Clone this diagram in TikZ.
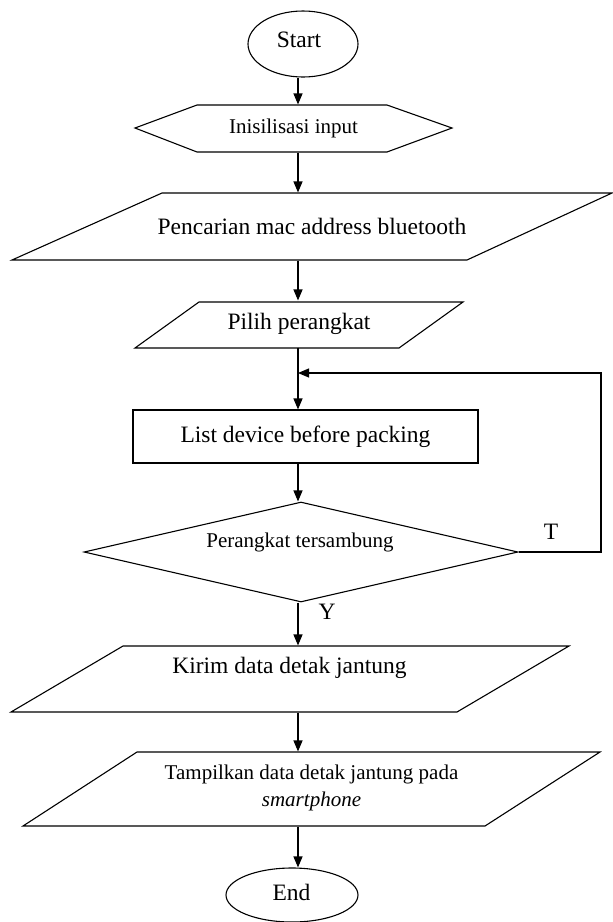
\documentclass[tikz,border=0pt]{standalone}
\usepackage{fontspec}
\setmainfont{Liberation Serif}
\usetikzlibrary{shapes.geometric,arrows.meta}
\begin{document}
\begin{tikzpicture}[x=1pt,y=-1pt,line width=1.1pt,
  arr/.style={-{Triangle[length=11pt,width=9pt]}},
  shp/.style={draw,line width=1.1pt},
  big/.style={font=\fontsize{23.5}{28}\selectfont},
  small/.style={font=\fontsize{21}{27}\selectfont},
  bbox/.style={draw=none,inner sep=0pt}]
\useasboundingbox (0,0) rectangle (613,922);
\coordinate (axis) at (298,0);
% Start
\node[draw,ellipse,minimum width=110,minimum height=66,inner sep=0pt] (start) at (303,44) {};
\node[big] (tstart) at (299,40) {Start};
% Init hexagon
\draw[shp] (135,128) -- (197,105) -- (387,105) -- (452,128) -- (387,152) -- (197,152) -- cycle;
\node[bbox,small,minimum width=317,minimum height=47] (init) at (293.5,128.5) {Inisilisasi input};
% Search parallelogram
\draw[shp] (162,193) -- (612,193) -- (467,260) -- (12,260) -- cycle;
\node[bbox,big,minimum height=67] (search) at (312,226.5) {Pencarian mac address bluetooth};
% Pick parallelogram
\draw[shp] (199,302) -- (463,302) -- (399,348) -- (135,348) -- cycle;
\node[bbox,big,minimum height=46] (pick) at (299,324) {Pilih perangkat};
% List rectangle
\node[draw,big,minimum width=345,minimum height=53,inner sep=0pt] (list) at (305.5,436.5) {List device before packing};
% Decision
\node[draw,diamond,minimum width=434,minimum height=100,inner sep=0pt] (dec) at (301,552) {};
\node[small] (tdec) at (300,542) {Perangkat tersambung};
% Send parallelogram
\draw[shp] (123,646) -- (569,646) -- (457,712) -- (11,712) -- cycle;
\node[bbox,minimum height=66,minimum width=10] (send) at (290,679) {};
\node[big] (tsend) at (289.5,668) {Kirim data detak jantung};
% Show parallelogram
\draw[shp] (137,752) -- (600,752) -- (485,826) -- (23,826) -- cycle;
\node[bbox,minimum height=74,minimum width=10] (show) at (311.5,789) {};
\node[small,align=center] (tshow) at (311.5,788) {Tampilkan data detak jantung pada\\\textit{smartphone}};
% End
\node[draw,ellipse,minimum width=132,minimum height=54,inner sep=0pt] (end) at (292,895) {};
\node[big] (tend) at (291.5,892) {End};
% Connectors
\draw[arr] (axis |- start.south) -- (axis |- init.north);
\draw[arr] (axis |- init.south) -- (axis |- search.north);
\draw[arr] (axis |- search.south) -- (axis |- pick.north);
\draw[arr] (axis |- pick.south) -- (axis |- list.north);
\draw[arr] (axis |- list.south) -- (axis |- dec.north);
\coordinate (loop) at (601,373);
\draw[arr] (dec.east) -| (loop) -- (axis |- loop);
\draw[arr] (axis |- dec.south) -- (axis |- send.north);
\draw[arr] (axis |- send.south) -- (axis |- show.north);
\draw[arr] (axis |- show.south) -- (axis |- end.north);
% Labels
\node[big] (tT) at (551,532) {T};
\node[big] (tY) at (327,612) {Y};
\end{tikzpicture}
\end{document}
